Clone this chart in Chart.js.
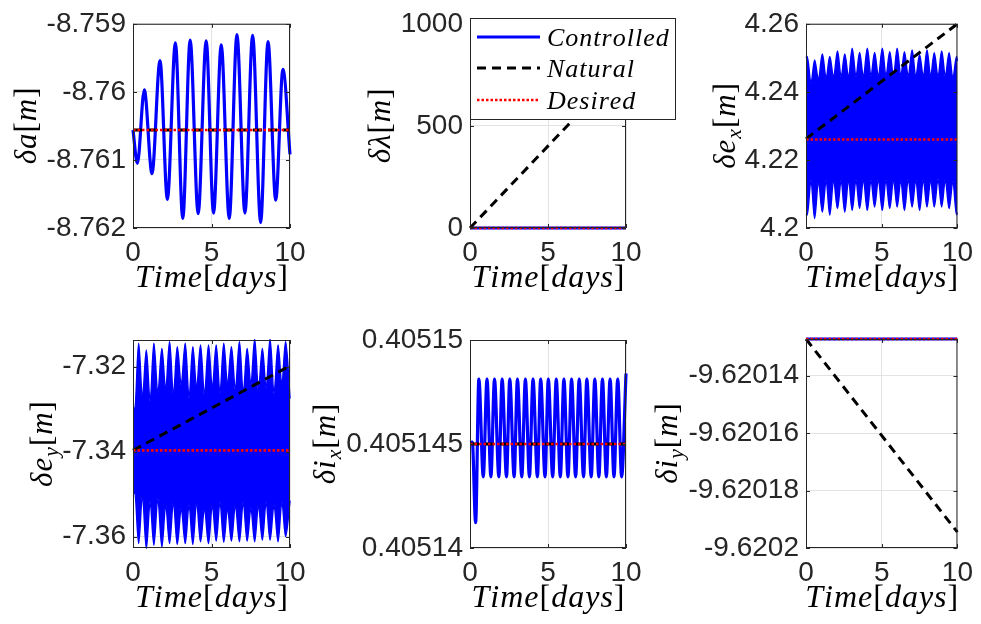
<!DOCTYPE html>
<html><head><meta charset="utf-8">
<script src="https://cdn.jsdelivr.net/npm/chart.js@4.4.1/dist/chart.umd.min.js"></script>
<style>
html,body{margin:0;padding:0;background:#fff;}
body{width:981px;height:624px;position:relative;overflow:hidden;}
canvas{position:absolute;left:0;top:0;}
</style></head>
<body>
<canvas id="c1" width="981" height="624"></canvas>
<canvas id="c2" width="981" height="624"></canvas>
<canvas id="c3" width="981" height="624"></canvas>
<canvas id="c4" width="981" height="624"></canvas>
<canvas id="c5" width="981" height="624"></canvas>
<canvas id="c6" width="981" height="624"></canvas>
<script>
// ---------------- data ----------------
const seriesNames = ['Controlled', 'Natural', 'Desired'];
const xTicks = [0, 5, 10];
const xTickLabels = ['0', '5', '10'];

// delta a
const daTime = [0, 0.28, 0.72, 1.21, 1.72, 2.19, 2.70, 3.17, 3.64, 4.15, 4.66, 5.13, 5.62, 6.13, 6.62, 7.13, 7.62, 8.13, 8.60, 9.09, 9.55, 10];
const daControlled = [-8.76056, -8.76105, -8.75997, -8.76120, -8.75954, -8.76158, -8.75928, -8.76186, -8.75924, -8.76179, -8.75925, -8.76178, -8.75931, -8.76186, -8.75916, -8.76178, -8.75917, -8.76192, -8.75926, -8.76159, -8.75967, -8.76092];
const daLineTime = [0, 10];
const daNatural = [-8.76056, -8.76056];
const daDesired = [-8.76056, -8.76056];
const daTicks = [-8.762, -8.761, -8.76, -8.759];
const daTickLabels = ['-8.762', '-8.761', '-8.76', '-8.759'];

// delta lambda
const dlTime = [0, 10];
const dlControlled = [0, 0];
const dlNatural = [0, 803];
const dlDesired = [0, 0];
const dlTicks = [0, 500, 1000];
const dlTickLabels = ['0', '500', '1000'];

// delta e_x  (band of fast oscillation: upper / lower envelope)
const exTime = [0, 0.08, 0.33, 0.57, 0.82, 1.08, 1.33, 1.57, 1.82, 2.08, 2.32, 2.56, 2.81, 3.05, 3.30, 3.54, 3.79, 4.05, 4.29, 4.53, 4.78, 5.04, 5.28, 5.53, 5.78, 6.02, 6.26, 6.50, 6.75, 7.01, 7.25, 7.50, 7.75, 7.99, 8.23, 8.47, 8.72, 8.96, 9.20, 9.45, 9.70, 9.94, 10];
const exUpper = [4.2500, 4.2504, 4.2425, 4.2494, 4.2436, 4.2511, 4.2440, 4.2504, 4.2442, 4.2520, 4.2444, 4.2511, 4.2442, 4.2528, 4.2445, 4.2516, 4.2443, 4.2528, 4.2446, 4.2516, 4.2444, 4.2528, 4.2446, 4.2518, 4.2444, 4.2528, 4.2446, 4.2518, 4.2445, 4.2523, 4.2443, 4.2509, 4.2444, 4.2523, 4.2445, 4.2515, 4.2444, 4.2520, 4.2445, 4.2515, 4.2440, 4.2504, 4.2490];
const exLower = [4.2040, 4.2038, 4.2140, 4.2028, 4.2138, 4.2047, 4.2140, 4.2038, 4.2142, 4.2057, 4.2140, 4.2047, 4.2142, 4.2052, 4.2141, 4.2057, 4.2143, 4.2052, 4.2141, 4.2062, 4.2143, 4.2052, 4.2142, 4.2057, 4.2143, 4.2062, 4.2141, 4.2052, 4.2143, 4.2062, 4.2142, 4.2052, 4.2143, 4.2062, 4.2142, 4.2062, 4.2143, 4.2062, 4.2142, 4.2057, 4.2138, 4.2039, 4.2045];
const exLineTime = [0, 10];
const exNatural = [4.2262, 4.2600];
const exDesired = [4.2260, 4.2260];
const exTicks = [4.2, 4.22, 4.24, 4.26];
const exTickLabels = ['4.2', '4.22', '4.24', '4.26'];

// delta e_y
const eyTime = [0, 0.12, 0.36, 0.60, 0.85, 1.09, 1.33, 1.58, 1.84, 2.08, 2.33, 2.57, 2.82, 3.07, 3.33, 3.57, 3.81, 4.05, 4.30, 4.55, 4.81, 5.05, 5.30, 5.54, 5.78, 6.02, 6.27, 6.52, 6.78, 7.02, 7.27, 7.51, 7.75, 7.99, 8.24, 8.48, 8.73, 8.98, 9.24, 9.48, 9.72, 10];
const eyUpper = [-7.3298, -7.3298, -7.3145, -7.3274, -7.3161, -7.3282, -7.3145, -7.3263, -7.3157, -7.3255, -7.3141, -7.3267, -7.3153, -7.3243, -7.3145, -7.3274, -7.3153, -7.3251, -7.3149, -7.3267, -7.3149, -7.3251, -7.3149, -7.3263, -7.3145, -7.3243, -7.3153, -7.3255, -7.3141, -7.3263, -7.3157, -7.3243, -7.3135, -7.3255, -7.3157, -7.3251, -7.3135, -7.3263, -7.3149, -7.3243, -7.3141, -7.3275];
const eyLower = [-7.3498, -7.3498, -7.3616, -7.3502, -7.3627, -7.3518, -7.3620, -7.3510, -7.3624, -7.3525, -7.3616, -7.3518, -7.3618, -7.3533, -7.3616, -7.3525, -7.3618, -7.3518, -7.3612, -7.3533, -7.3616, -7.3525, -7.3610, -7.3518, -7.3613, -7.3533, -7.3610, -7.3525, -7.3612, -7.3518, -7.3610, -7.3533, -7.3612, -7.3525, -7.3608, -7.3518, -7.3608, -7.3525, -7.3612, -7.3518, -7.3600, -7.3515];
const eyLineTime = [0, 10];
const eyNatural = [-7.3397, -7.3198];
const eyDesired = [-7.3397, -7.3397];
const eyTicks = [-7.36, -7.34, -7.32];
const eyTickLabels = ['-7.36', '-7.34', '-7.32'];

// delta i_x
const ixTime = [0, 0.15, 0.36, 0.57, 0.85, 1.09, 1.34, 1.57, 1.85, 2.06, 2.34, 2.55, 2.83, 3.04, 3.32, 3.55, 3.81, 4.04, 4.32, 4.53, 4.81, 5.02, 5.30, 5.53, 5.79, 6.02, 6.28, 6.51, 6.77, 7.00, 7.28, 7.49, 7.77, 8.00, 8.26, 8.49, 8.74, 8.98, 9.23, 9.47, 9.72, 10];
const ixControlled = [0.40514507, 0.40514509, 0.40514122,
  0.40514812, 0.40514342, 0.40514812, 0.40514342, 0.40514812, 0.40514342, 0.40514812, 0.40514342,
  0.40514812, 0.40514342, 0.40514812, 0.40514342, 0.40514812, 0.40514342, 0.40514812, 0.40514342,
  0.40514812, 0.40514342, 0.40514812, 0.40514342, 0.40514812, 0.40514342, 0.40514812, 0.40514342,
  0.40514812, 0.40514342, 0.40514812, 0.40514342, 0.40514812, 0.40514342, 0.40514812, 0.40514342,
  0.40514812, 0.40514342, 0.40514812, 0.40514342, 0.40514812, 0.40514342, 0.40514839];
const ixLineTime = [0, 10];
const ixNatural = [0.405145, 0.405145];
const ixDesired = [0.405145, 0.405145];
const ixTicks = [0.40514, 0.405145, 0.40515];
const ixTickLabels = ['0.40514', '0.405145', '0.40515'];

// delta i_y
const iyTime = [0, 10];
const iyControlled = [-9.6201273, -9.6201273];
const iyNatural = [-9.6201273, -9.6201945];
const iyDesired = [-9.6201273, -9.6201273];
const iyTicks = [-9.6202, -9.62018, -9.62016, -9.62014];
const iyTickLabels = ['-9.6202', '-9.62018', '-9.62016', '-9.62014'];

// ---------------- style / layout ----------------
const PW = 981, PH = 624, YW = 130, XH = 40;
const TXT = '#262626', GRID = '#e3e3e3';
const BLUE = '#0000ff', BLACK = '#000000', RED = '#ff0000';
const TICKFONT = {family: '"Liberation Sans", Arial, Helvetica, sans-serif', size: 28};
const SERIF = '"Liberation Serif", "Times New Roman", serif';

const styleOf = {
  Controlled: {borderColor: BLUE, borderWidth: 3.2, order: 2, cubicInterpolationMode: 'monotone'},
  Natural: {borderColor: BLACK, borderWidth: 3, borderDash: [9, 6], order: 1},
  Desired: {borderColor: RED, borderWidth: 2.6, borderDash: [2.5, 2], order: 0}
};

function pts(xs, ys) { return xs.map((x, i) => ({x: x, y: ys[i]})); }
function lineDS(name, xs, ys) {
  return Object.assign({label: name, data: pts(xs, ys), pointRadius: 0, fill: false, tension: 0, clip: 2}, styleOf[name]);
}
function bandDS(xs, up, lo) {
  return [
    {label: 'Controlled', data: pts(xs, up), pointRadius: 0, borderColor: BLUE, borderWidth: 1.5,
     cubicInterpolationMode: 'monotone', fill: false, order: 2, clip: 1},
    {label: 'Controlled', data: pts(xs, lo), pointRadius: 0, borderColor: BLUE, borderWidth: 1.5,
     cubicInterpolationMode: 'monotone', fill: '-1', backgroundColor: BLUE, order: 2, clip: 1}
  ];
}

function segFont(s, size) {
  const fs = s.sub ? size * 0.7 : size;
  return (s.up ? '' : 'italic ') + fs + 'px ' + SERIF;
}
function richWidth(ctx, segs, size, sp) {
  let w = 0;
  segs.forEach(s => { ctx.font = segFont(s, size); for (const ch of s.t) w += ctx.measureText(ch).width + sp; });
  return w - sp;
}
function drawRich(ctx, segs, size, sp, x0, y0) {
  let x = x0;
  segs.forEach(s => {
    ctx.font = segFont(s, size);
    const dy = s.sub ? size * 0.18 : 0;
    for (const ch of s.t) { ctx.fillText(ch, x, y0 + dy); x += ctx.measureText(ch).width + sp; }
  });
}

const xTitle = [{t: 'Time'}, {t: '[', up: 1}, {t: 'days'}, {t: ']', up: 1}];

function legendDraw(chart) {
  const ctx = chart.ctx;
  const bx = 470, by = 18, bw = 205, bh = 101;
  ctx.save();
  ctx.fillStyle = '#ffffff';
  ctx.fillRect(bx, by, bw, bh);
  ctx.strokeStyle = TXT; ctx.lineWidth = 1;
  ctx.strokeRect(bx + 0.5, by + 0.5, bw, bh);
  const rows = [37, 68, 100];
  seriesNames.forEach((name, i) => {
    const st = styleOf[name];
    ctx.beginPath();
    ctx.setLineDash(st.borderDash || []);
    ctx.strokeStyle = st.borderColor; ctx.lineWidth = st.borderWidth;
    ctx.moveTo(477, rows[i]); ctx.lineTo(540, rows[i]); ctx.stroke();
    ctx.setLineDash([]);
    ctx.fillStyle = '#000'; ctx.textBaseline = 'alphabetic'; ctx.textAlign = 'left';
    drawRich(ctx, [{t: name}], 26, 1, 547, rows[i] + 9);
  });
  ctx.restore();
}

function decor(ylab, ylabX, extra) {
  return {
    id: 'decor',
    afterDraw(chart) {
      const ctx = chart.ctx, a = chart.chartArea, sx = chart.scales.x, sy = chart.scales.y;
      ctx.save();
      ctx.strokeStyle = TXT; ctx.lineWidth = 1;
      ctx.beginPath();
      sx.ticks.forEach(t => {
        const p = Math.round(sx.getPixelForValue(t.value)) + 0.5;
        ctx.moveTo(p, a.bottom); ctx.lineTo(p, a.bottom - 4);
        ctx.moveTo(p, a.top); ctx.lineTo(p, a.top + 4);
      });
      sy.ticks.forEach(t => {
        const p = Math.round(sy.getPixelForValue(t.value)) + 0.5;
        ctx.moveTo(a.left, p); ctx.lineTo(a.left + 4, p);
        ctx.moveTo(a.right, p); ctx.lineTo(a.right - 4, p);
      });
      ctx.stroke();
      ctx.strokeRect(a.left + 0.5, a.top + 0.5, a.right - a.left - 1, a.bottom - a.top - 1);
      // x title
      ctx.fillStyle = '#000'; ctx.textBaseline = 'alphabetic'; ctx.textAlign = 'left';
      const xw = richWidth(ctx, xTitle, 32, 1);
      drawRich(ctx, xTitle, 32, 1, (a.left + a.right) / 2 - xw / 2, a.bottom + 59);
      // y title
      const yw = richWidth(ctx, ylab, 31, 1);
      ctx.translate(ylabX, (a.top + a.bottom) / 2);
      ctx.rotate(-Math.PI / 2);
      drawRich(ctx, ylab, 31, 1, -yw / 2, 0);
      ctx.restore();
      if (extra) extra(chart);
    }
  };
}

function panel(id, rect, yMin, yMax, yTicks, yLabels, datasets, ylab, ylabX, extra) {
  const axisCommon = {
    type: 'linear', bounds: 'data',
    grid: {color: GRID, lineWidth: 1, drawTicks: false},
    border: {display: false}
  };
  return new Chart(document.getElementById(id), {
    type: 'line',
    data: {datasets: datasets},
    options: {
      responsive: false, animation: false, events: [],
      layout: {padding: {left: rect[0] - YW, top: rect[1], right: PW - rect[2], bottom: PH - rect[3] - XH}},
      plugins: {legend: {display: false}, tooltip: {enabled: false}},
      scales: {
        x: Object.assign({}, axisCommon, {
          min: 0, max: 10,
          afterBuildTicks: s => { s.ticks = xTicks.map(v => ({value: v})); },
          afterFit: s => { s.height = XH; },
          ticks: {padding: 8, font: TICKFONT, color: TXT, maxRotation: 0, autoSkip: false,
                  callback: (v, i) => xTickLabels[i]}
        }),
        y: Object.assign({}, axisCommon, {
          min: yMin, max: yMax,
          afterBuildTicks: s => { s.ticks = yTicks.map(v => ({value: v})); },
          afterFit: s => { s.width = YW; },
          ticks: {padding: 7, font: TICKFONT, color: TXT, autoSkip: false,
                  callback: (v, i) => yLabels[i]}
        })
      }
    },
    plugins: [decor(ylab, ylabX, extra)]
  });
}

function lbl(main, sub) {
  const s = [{t: 'δ' + main}];
  if (sub) s.push({t: sub, sub: 1});
  s.push({t: '[', up: 1}, {t: 'm'}, {t: ']', up: 1});
  return s;
}

panel('c1', [133, 20, 290, 228], -8.762, -8.759, daTicks, daTickLabels, [
  lineDS('Desired', daLineTime, daDesired),
  lineDS('Natural', daLineTime, daNatural),
  lineDS('Controlled', daTime, daControlled)
], lbl('a'), 36);

panel('c2', [470, 20, 626, 228], 0, 1000, dlTicks, dlTickLabels, [
  lineDS('Desired', dlTime, dlDesired),
  lineDS('Natural', dlTime, dlNatural),
  lineDS('Controlled', dlTime, dlControlled)
], lbl('λ'), 390, legendDraw);

panel('c3', [806, 20, 963, 228], 4.2, 4.26, exTicks, exTickLabels,
  bandDS(exTime, exUpper, exLower).concat([
    lineDS('Natural', exLineTime, exNatural),
    lineDS('Desired', exLineTime, exDesired)
  ]), lbl('e', 'x'), 735);

panel('c4', [133, 340, 290, 548], -7.36266, -7.31372, eyTicks, eyTickLabels,
  bandDS(eyTime, eyUpper, eyLower).concat([
    lineDS('Natural', eyLineTime, eyNatural),
    lineDS('Desired', eyLineTime, eyDesired)
  ]), lbl('e', 'y'), 52);

panel('c5', [470, 340, 626, 548], 0.40514, 0.40515, ixTicks, ixTickLabels, [
  lineDS('Desired', ixLineTime, ixDesired),
  lineDS('Natural', ixLineTime, ixNatural),
  lineDS('Controlled', ixTime, ixControlled)
], lbl('i', 'x'), 335);

panel('c6', [806, 339, 963, 548], -9.6202, -9.6201273, iyTicks, iyTickLabels, [
  lineDS('Desired', iyTime, iyDesired),
  lineDS('Natural', iyTime, iyNatural),
  lineDS('Controlled', iyTime, iyControlled)
], lbl('i', 'y'), 677);
</script>
</body></html>
